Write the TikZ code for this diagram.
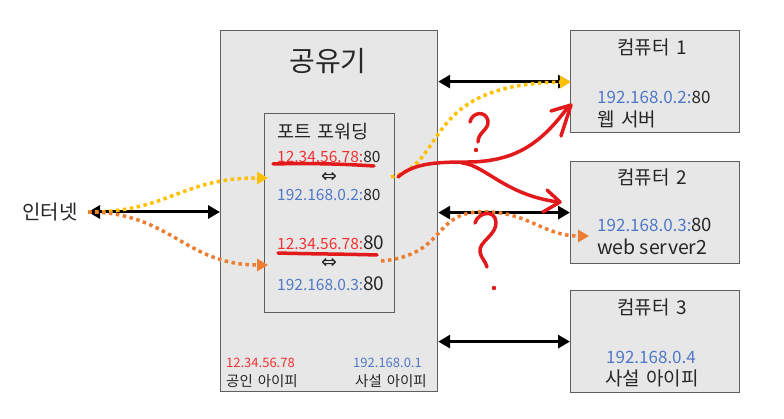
\documentclass[tikz,border=0pt]{standalone}
\usepackage{fontspec}
\setmainfont[WordSpace=1.5]{Noto Sans CJK KR}
\newfontfamily\latinf{Noto Sans CJK KR}
\newfontfamily\symfont{DejaVu Sans}
\usetikzlibrary{arrows.meta}
\definecolor{boxfill}{RGB}{231,231,231}
\definecolor{boxline}{RGB}{95,95,95}
\definecolor{ipred}{RGB}{240,50,50}
\definecolor{ipblue}{RGB}{80,120,200}
\definecolor{yel}{RGB}{255,192,0}
\definecolor{ora}{RGB}{237,125,49}
\definecolor{pen}{RGB}{226,26,28}
\newcommand{\fsz}[1]{\fontsize{#1}{#1}\selectfont}
\begin{document}
\begin{tikzpicture}[x=1pt,y=-1pt,
  box/.style={draw=boxline, fill=boxfill, line width=1.2pt, anchor=north west, inner sep=0},
  lbl/.style={inner sep=0, anchor=west, text=black!85},
  ctr/.style={inner sep=0, anchor=center, text=black!85},
  dbl/.style={line width=3pt, {Triangle[length=12pt,width=13pt]}-{Triangle[length=12pt,width=13pt]}},
  yeldot/.style={draw=yel, line width=3.5pt, dash pattern=on 3.5pt off 3.5pt, -{Triangle[length=11pt,width=12pt,fill=yel]}},
  oradot/.style={draw=ora, line width=3.5pt, dash pattern=on 3.5pt off 3.5pt, -{Triangle[length=11pt,width=12pt,fill=ora]}},
  penline/.style={draw=pen, line width=3.5pt, line cap=round, line join=round}]
\useasboundingbox (0,0) rectangle (784,419);
% boxes
\node[box, minimum width=217, minimum height=361] (router) at (220,30) {};
\node[box, minimum width=130, minimum height=199] (fw) at (264,113) {};
\node[box, minimum width=169, minimum height=102] (comp1) at (570,30) {};
\node[box, minimum width=169, minimum height=102] (comp2) at (570,161) {};
\node[box, minimum width=169, minimum height=102] (comp3) at (570,290) {};
% internet
\node[ctr, font=\fsz{20}] (inet) at (50,212) {인터넷};
\coordinate (inetend) at (88,212);
% router texts
\node[ctr, font=\fsz{28}] (title) at (328,61) {공유기};
\node[lbl, font=\fsz{18.5}] (fwt) at (277,132) {포트 포워딩};
\node[lbl, font=\fsz{15.5}] (e1a) at (277,157) {\textcolor{ipred}{12.34.56.78:}80};
\node[ctr, font=\symfont\fsz{19}] (e1s) at (329,177) {⇔};
\node[lbl, font=\fsz{15.5}] (e1b) at (277,195) {\textcolor{ipblue}{192.168.0.2:}80};
\node[lbl, font=\fsz{15.5}] (e2a) at (277,243) {\textcolor{ipred}{12.34.56.78:}{\fsz{19}80}};
\node[ctr, font=\symfont\fsz{19}] (e2s) at (329,263) {⇔};
\node[lbl, font=\fsz{15.5}] (e2b) at (277,284) {\textcolor{ipblue}{192.168.0.3:}{\fsz{19}80}};
\node[lbl, font=\fsz{13}, text=ipred] (pubip) at (226,363) {12.34.56.78};
\node[lbl, font=\fsz{14.5}] (publ) at (226,381) {공인 아이피};
\node[lbl, anchor=east, font=\fsz{13}, text=ipblue] (privip) at (422,363) {192.168.0.1};
\node[lbl, anchor=east, font=\fsz{14.5}] (privl) at (427,381) {사설 아이피};
% computer texts
\node[ctr, font=\fsz{19}] (c1t) at (652,47) {컴퓨터 1};
\node[lbl, font=\fsz{17}] (c1ip) at (597,97) {\textcolor{ipblue}{192.168.0.2:}80};
\node[lbl, font=\fsz{19}] (c1d) at (597,119) {웹 서버};
\node[ctr, font=\fsz{19}] (c2t) at (652,177) {컴퓨터 2};
\node[lbl, font=\fsz{17}] (c2ip) at (597,225) {\textcolor{ipblue}{192.168.0.3:}{\fsz{18.5}80}};
\node[lbl, font=\latinf\fsz{19.5}] (c2d) at (597,247) {web server2};
\node[ctr, font=\fsz{17}, text=ipblue] (c3ip) at (651,357) {192.168.0.4};
\node[ctr, font=\fsz{19}] (c3t) at (652,307) {컴퓨터 3};
\node[ctr, font=\fsz{19}] (c3d) at (652,378) {사설 아이피};
% black double arrows
\draw[dbl] (inetend) -- (router.west |- inetend);
\draw[dbl] (router.east |- comp1.west) -- (comp1.west);
\draw[dbl] (router.east |- comp2.west) -- (comp2.west);
\draw[dbl] (router.east |- comp3.west) -- (comp3.west);
% coordinates for dotted paths
\coordinate (y1end) at (268,178);
\coordinate (o1end) at (268,265);
\coordinate (y2start) at (391,177);
\coordinate (o2start) at (381,261);
\coordinate (y2end) at (571,82);
\coordinate (o2end) at (589,236);
% dotted paths
\draw[yeldot] (inetend) .. controls (170,212) and (180,178) .. (y1end);
\draw[oradot] (inetend) .. controls (170,212) and (185,265) .. (o1end);
\draw[yeldot] (y2start) .. controls (448,165) and (420,84) .. (y2end);
\draw[oradot] (o2start) .. controls (450,255) and (430,208) .. (490,212) .. controls (530,214) and (545,236) .. (o2end);
% red pen marks
\draw[penline] (273,164) .. controls (310,163) and (345,164) .. (374,166);
\draw[penline] (278,253) .. controls (310,254) and (345,254) .. (377,255);
\draw[penline] (398,177) .. controls (415,162) and (440,162) .. (473,162) .. controls (515,160) and (540,145) .. (568,107);
\draw[penline] (551,111) -- (571,105) -- (561,136);
\draw[penline] (462,163) .. controls (485,165) and (505,195) .. (558,202);
\draw[penline] (547,190) -- (560,202) -- (543,212);
\draw[penline] (470,122) .. controls (472,112) and (486,110) .. (488,121) .. controls (489,130) and (478,132) .. (478,142);
\fill[pen] (476,150) circle (2.2pt);
\draw[penline] (475,223) .. controls (478,212) and (495,209) .. (496,222) .. controls (497,235) and (478,242) .. (480,252) .. controls (481,258) and (486,262) .. (487,267);
\fill[pen] (494,288) circle (2.2pt);
\end{tikzpicture}
\end{document}
